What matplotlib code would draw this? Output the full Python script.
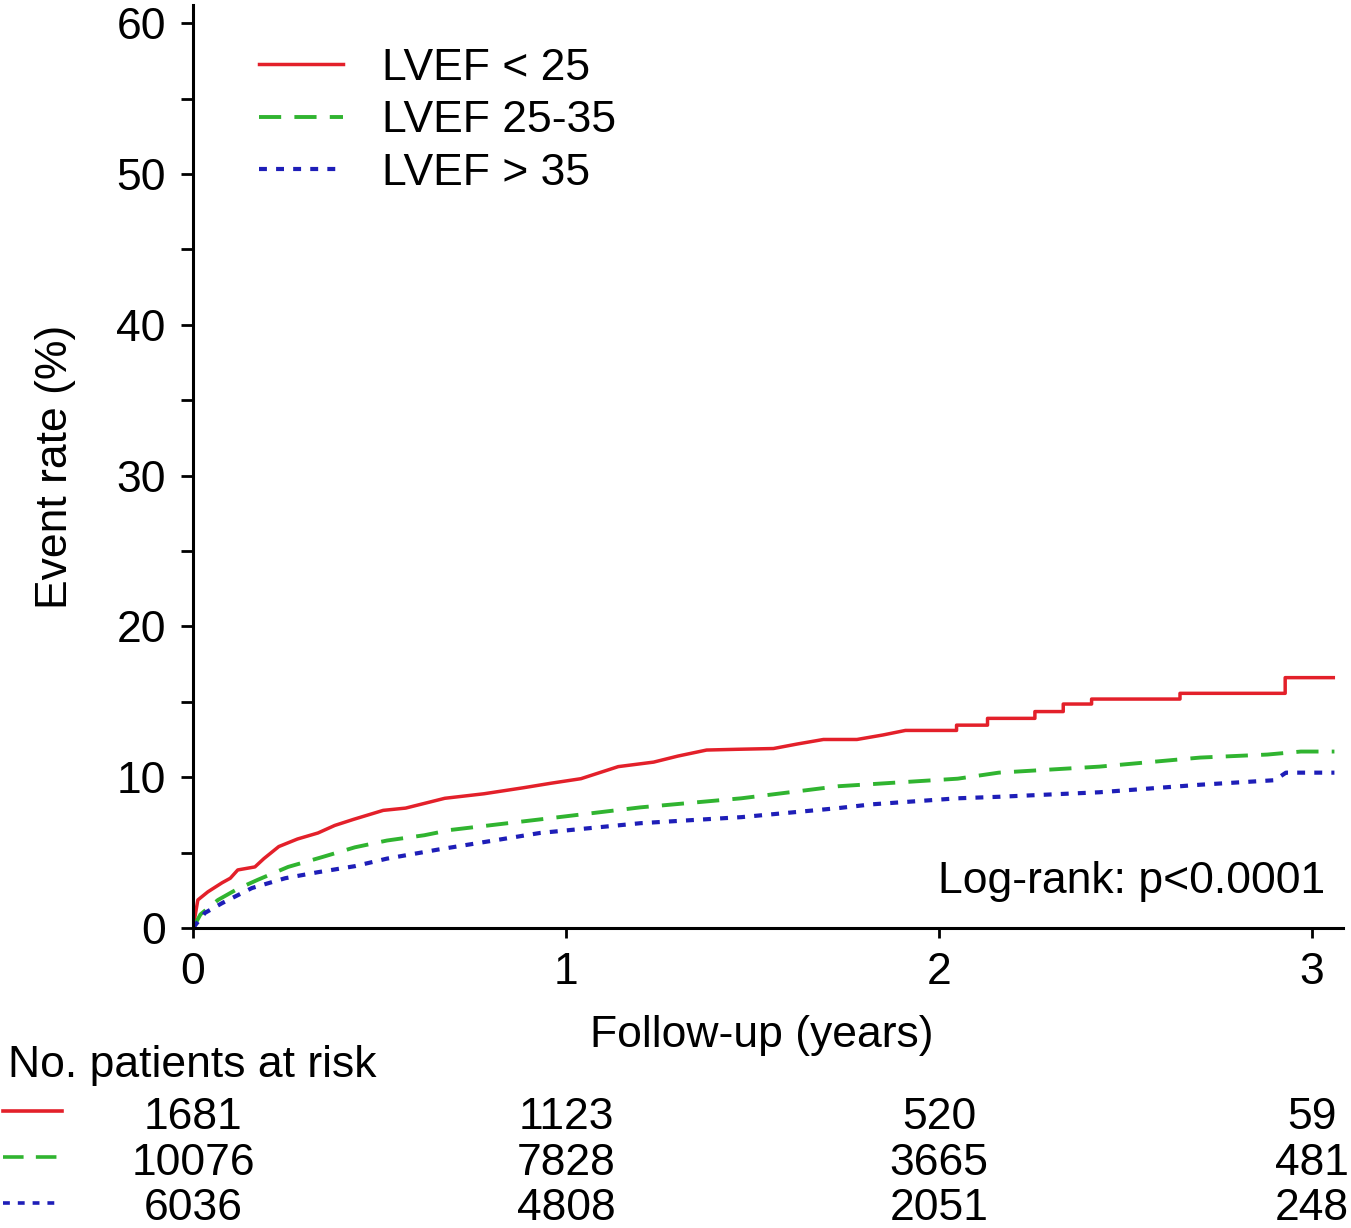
import matplotlib
matplotlib.use('Agg')
import matplotlib.pyplot as plt
import matplotlib.transforms as mtransforms
from matplotlib.lines import Line2D

# data (repeated times = KM jumps)
red_t = [0, 0.013, 0.04, 0.078, 0.10, 0.12, 0.166, 0.19, 0.23, 0.28, 0.335, 0.38, 0.43, 0.51,
         0.57, 0.675, 0.78, 0.886, 0.96, 1.04, 1.14, 1.235, 1.30, 1.377, 1.46, 1.556, 1.62,
         1.69, 1.78, 1.85, 1.91, 2.047, 2.047, 2.13, 2.13, 2.257, 2.257,
         2.333, 2.333, 2.409, 2.409, 2.646, 2.646, 2.928, 2.928, 3.057]
red_v = [0, 1.86, 2.4, 3.0, 3.3, 3.85, 4.05, 4.6, 5.4, 5.9, 6.3, 6.8, 7.2, 7.8,
         7.95, 8.6, 8.9, 9.3, 9.6, 9.9, 10.7, 11.0, 11.4, 11.8, 11.85, 11.9, 12.2,
         12.5, 12.5, 12.8, 13.1, 13.1, 13.45, 13.45, 13.9, 13.9, 14.35,
         14.35, 14.85, 14.85, 15.18, 15.18, 15.56, 15.56, 16.6, 16.6]
green_t = [0, 0.02, 0.067, 0.12, 0.174, 0.255, 0.346, 0.434, 0.52, 0.62, 0.69, 0.93, 1.2,
           1.47, 1.73, 2.05, 2.16, 2.43, 2.7, 2.88, 2.97, 3.06]
green_v = [0, 0.9, 1.86, 2.6, 3.2, 4.05, 4.7, 5.35, 5.8, 6.15, 6.5, 7.2, 8.0,
           8.6, 9.4, 9.9, 10.3, 10.7, 11.3, 11.5, 11.7, 11.7]
blue_t = [0, 0.032, 0.078, 0.158, 0.247, 0.335, 0.434, 0.52, 0.657, 0.93, 1.2, 1.47, 1.73,
          1.82, 2.05, 2.16, 2.43, 2.7, 2.9, 2.93, 3.06]
blue_v = [0, 1.0, 1.65, 2.65, 3.3, 3.7, 4.1, 4.6, 5.2, 6.3, 6.95, 7.35, 7.95,
          8.2, 8.6, 8.7, 9.0, 9.5, 9.8, 10.3, 10.3]

labels = ['LVEF < 25', 'LVEF 25-35', 'LVEF > 35']
risk_times = [0, 1, 2, 3]
risk_red = [1681, 1123, 520, 59]
risk_green = [10076, 7828, 3665, 481]
risk_blue = [6036, 4808, 2051, 248]

RED = '#e3202a'
GREEN = '#30b430'
BLUE = '#1e1eb8'
DASH = (0, (5.7, 3.4))
DOT = (0, (1.9, 2.2))

plt.rcParams['font.family'] = ['Liberation Sans', 'DejaVu Sans']
fs = 32

fig = plt.figure(figsize=(13.51, 12.28), dpi=100)
ax = fig.add_axes([193/1351, 1 - 928/1228, 1150/1351, 923/1228])

ax.plot(red_t, red_v, color=RED, lw=2.5, label=labels[0])
ax.plot(green_t, green_v, color=GREEN, lw=2.8, linestyle=DASH, label=labels[1])
ax.plot(blue_t, blue_v, color=BLUE, lw=3.0, linestyle=DOT, label=labels[2])

ax.set_xlim(0, 3.083)
ax.set_ylim(0, 61.2)
for s in ['top', 'right']:
    ax.spines[s].set_visible(False)
for s in ['left', 'bottom']:
    ax.spines[s].set_linewidth(2.2)
ax.set_xticks([0, 1, 2, 3])
ax.set_yticks(range(0, 61, 5))
ax.set_yticklabels([str(v) if v % 10 == 0 else '' for v in range(0, 61, 5)])
ax.tick_params(axis='y', direction='out', length=8.6, width=2, pad=11, labelsize=fs)
ax.tick_params(axis='x', direction='out', length=7, width=2, pad=10, labelsize=fs)

leg = ax.legend(loc='upper left', bbox_to_anchor=(0.038, 0.978), frameon=False, fontsize=fs,
                handlelength=1.9, handletextpad=0.86, labelspacing=0.26, borderpad=0)

ax.text(3.035, 2.32, 'Log-rank: p<0.0001', ha='right', va='baseline', fontsize=fs)

fig.text(55/1351, 1 - 467/1228, 'Event rate (%)', rotation=90, ha='center', va='center', fontsize=fs)
fig.text(762/1351, 1 - 1035/1228, 'Follow-up (years)', ha='center', va='center', fontsize=fs)

# at-risk table
trans = mtransforms.blended_transform_factory(ax.transData, fig.transFigure)
fig.text(8/1351, 1 - 1077/1228, 'No. patients at risk', ha='left', va='baseline', fontsize=fs)
rows = [(risk_red, RED, '-', 1111, 1129), (risk_green, GREEN, DASH, 1157, 1175),
        (risk_blue, BLUE, DOT, 1203, 1220)]
for vals, col, ls, ly, by in rows:
    fig.add_artist(Line2D([3/1351, 62/1351], [1 - ly/1228, 1 - ly/1228], color=col, lw=2.6,
                          linestyle=ls, transform=fig.transFigure))
    for t, v in zip(risk_times, vals):
        ax.text(t, 1 - by/1228, str(v), ha='center', va='baseline', fontsize=fs,
                transform=trans, clip_on=False)

fig.savefig('out.png', dpi=100)
